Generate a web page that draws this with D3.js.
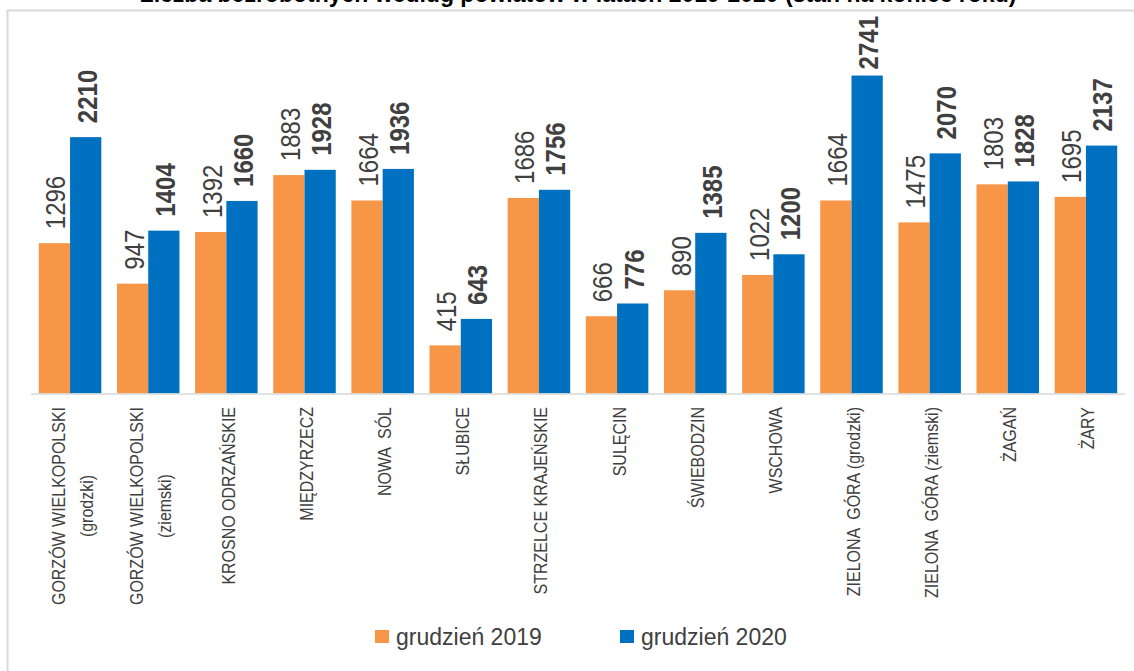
<!DOCTYPE html>
<html>
<head>
<meta charset="utf-8">
<script src="https://cdn.jsdelivr.net/npm/d3@7"></script>
<style>
  body { margin: 0; background: #fff; }
  svg { display: block; font-family: "Liberation Sans", Arial, sans-serif; }
</style>
</head>
<body>
<div class="bar-chart"></div>
<script>
// powiaty (each entry = lines of the axis label)
const categories = [
    ["GORZÓW WIELKOPOLSKI", "(grodzki)"],
    ["GORZÓW WIELKOPOLSKI", "(ziemski)"],
    ["KROSNO ODRZAŃSKIE"],
    ["MIĘDZYRZECZ"],
    ["NOWA  SÓL"],
    ["SŁUBICE"],
    ["STRZELCE KRAJEŃSKIE"],
    ["SULĘCIN"],
    ["ŚWIEBODZIN"],
    ["WSCHOWA"],
    ["ZIELONA  GÓRA (grodzki)"],
    ["ZIELONA  GÓRA (ziemski)"],
    ["ŻAGAŃ"],
    ["ŻARY"]
];
const seriesNames = ["grudzień 2019", "grudzień 2020"];
const values2019 = [1296, 947, 1392, 1883, 1664, 415, 1686, 666, 890, 1022, 1664, 1475, 1803, 1695];
const values2020 = [2210, 1404, 1660, 1928, 1936, 643, 1756, 776, 1385, 1200, 2741, 2070, 1828, 2137];

const width = 1134;
const height = 671;
const colors = ["#f79646", "#0070c0"];
const textColor = "#404040";

const svg = d3.select(".bar-chart")
    .append("svg")
    .attr("width", width)
    .attr("height", height);

// chart frame
svg.append("rect")
    .attr("x", 7.5).attr("y", 10.5)
    .attr("width", width + 10).attr("height", height)
    .attr("fill", "none")
    .attr("stroke", "#d9d9d9")
    .attr("stroke-width", 2);

// title is cut off at the top edge, as in the source picture
svg.append("text")
    .attr("x", 578)
    .attr("y", 2)
    .attr("text-anchor", "middle")
    .attr("font-size", 23)
    .attr("font-weight", "bold")
    .attr("fill", "#000")
    .text("Liczba bezrobotnych według powiatów w latach 2019-2020 (stan na koniec roku)");

const keys = categories.map(c => c.join(" "));
const rows = keys.map((k, i) => ({key: k, lines: categories[i], vals: [values2019[i], values2020[i]]}));

const x0 = d3.scaleBand()
    .domain(keys)
    .range([31, 1125])
    .paddingInner(0.2)
    .paddingOuter(0.1);

const x1 = d3.scaleBand()
    .domain([0, 1])
    .range([0, x0.bandwidth()]);

const y = d3.scaleLinear()
    .domain([0, 3000])
    .range([393.5, 45.5]);

const group = svg.selectAll("g.grp")
    .data(rows)
    .join("g")
    .attr("class", "grp")
    .attr("transform", d => `translate(${x0(d.key)},0)`);

group.selectAll("rect")
    .data(d => d.vals.map((v, s) => ({v, s})))
    .join("rect")
    .attr("x", d => x1(d.s))
    .attr("y", d => y(d.v))
    .attr("width", x1.bandwidth())
    .attr("height", d => y(0) - y(d.v))
    .attr("fill", d => colors[d.s]);

// value labels, rotated; pushed down when they would leave the plot
group.selectAll("text.val")
    .data(d => d.vals.map((v, s) => ({v, s})))
    .join("text")
    .attr("class", "val")
    .attr("font-size", 24)
    .attr("font-weight", d => d.s === 1 ? "bold" : "normal")
    .attr("fill", textColor)
    .attr("dy", "0.36em")
    .text(d => d.v)
    .attr("transform", function(d) {
        const len = this.getComputedTextLength();
        const yy = Math.max(y(d.v) - 14, 16 + len);
        return `translate(${x1(d.s) + x1.bandwidth() / 2 + 1},${yy}) rotate(-90) scale(1,1.15)`;
    });

// baseline
svg.append("line")
    .attr("x1", 31).attr("x2", 1125)
    .attr("y1", y(0) + 0.5).attr("y2", y(0) + 0.5)
    .attr("stroke", "#d9d9d9")
    .attr("stroke-width", 1.5);

// category labels
const catLabel = svg.selectAll("g.cat")
    .data(rows)
    .join("g")
    .attr("class", "cat")
    .attr("transform", d => `translate(${x0(d.key) + x0.bandwidth() / 2 + 2},407) rotate(-90) scale(1,1.12)`);

catLabel.append("text")
    .attr("font-size", 16)
    .attr("fill", textColor)
    .attr("text-anchor", "middle")
    .style("white-space", "pre")
    .each(function(d) {
        const t = d3.select(this);
        const n = d.lines.length;
        d.lines.forEach((line, i) => {
            t.append("tspan")
                .attr("x", 0)
                .attr("y", (i - (n - 1) / 2) * 25)
                .attr("dy", "0.36em")
                .text(line);
        });
        let maxW = 0;
        t.selectAll("tspan").each(function() {
            maxW = Math.max(maxW, this.getComputedTextLength());
        });
        t.attr("transform", `translate(${-maxW / 2},0)`);
    });

// legend
const legendX = [375, 620];
const legend = svg.selectAll("g.legend")
    .data(seriesNames)
    .join("g")
    .attr("class", "legend")
    .attr("transform", (d, i) => `translate(${legendX[i]},630)`);

legend.append("rect")
    .attr("width", 14).attr("height", 13)
    .attr("fill", (d, i) => colors[i]);

legend.append("text")
    .attr("x", 21)
    .attr("y", 15)
    .attr("font-size", 23)
    .attr("fill", textColor)
    .text(d => d);
</script>
</body>
</html>
